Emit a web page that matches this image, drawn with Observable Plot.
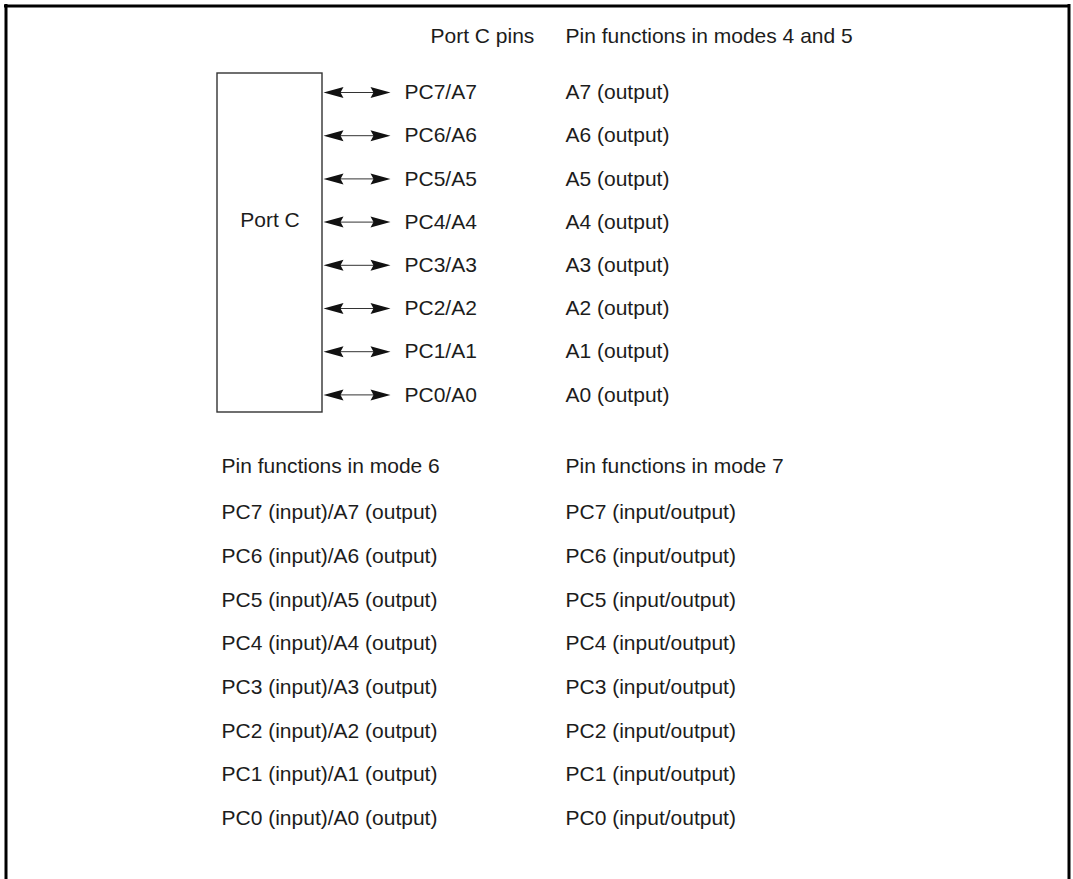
<!DOCTYPE html>
<html>
<head>
<meta charset="utf-8">
<script src="https://cdn.jsdelivr.net/npm/d3@7"></script>
<script src="https://cdn.jsdelivr.net/npm/@observablehq/plot@0.6"></script>
<style>
  html, body { margin: 0; padding: 0; background: #fff; }
  #chart svg { display: block; }
</style>
</head>
<body>
<div id="chart"></div>
<script>
// ---- Data ----
const pinLabels = ["PC7/A7", "PC6/A6", "PC5/A5", "PC4/A4", "PC3/A3", "PC2/A2", "PC1/A1", "PC0/A0"];
const modes45 = ["A7 (output)", "A6 (output)", "A5 (output)", "A4 (output)", "A3 (output)", "A2 (output)", "A1 (output)", "A0 (output)"];
const mode6 = ["PC7 (input)/A7 (output)", "PC6 (input)/A6 (output)", "PC5 (input)/A5 (output)", "PC4 (input)/A4 (output)",
               "PC3 (input)/A3 (output)", "PC2 (input)/A2 (output)", "PC1 (input)/A1 (output)", "PC0 (input)/A0 (output)"];
const mode7 = ["PC7 (input/output)", "PC6 (input/output)", "PC5 (input/output)", "PC4 (input/output)",
               "PC3 (input/output)", "PC2 (input/output)", "PC1 (input/output)", "PC0 (input/output)"];
const topHeaders = ["Port C pins", "Pin functions in modes 4 and 5"];
const bottomHeaders = ["Pin functions in mode 6", "Pin functions in mode 7"];
const blockLabel = ["Port C"];

// ---- Layout (page units) ----
const W = 1073, H = 879;
const FONT = "'Liberation Sans', Arial, Helvetica, sans-serif";
const FS = 21;
const INK = "#1c1c1c";
const pinRow0 = 92, pinStep = 43.2;
const lowRow0 = 512, lowStep = 43.7;
const colPins = 404, colRight = 565, colLeftLow = 221;
const box = {x1: 217, x2: 322, y1: 73, y2: 412};
const arrowX1 = 323, arrowX2 = 390;

const topRows = pinLabels.map((p, i) => ({pin: p, fn: modes45[i], y: pinRow0 + i * pinStep}));
const lowRows = mode6.map((m, i) => ({m6: m, m7: mode7[i], y: lowRow0 + i * lowStep}));

// custom filled arrowhead symbols (tip at origin)
const headRight = {draw(ctx) { ctx.moveTo(0, 0); ctx.lineTo(-20, -5.5); ctx.lineTo(-17, 0); ctx.lineTo(-20, 5.5); ctx.closePath(); }};
const headLeft  = {draw(ctx) { ctx.moveTo(0, 0); ctx.lineTo(20, -5.5); ctx.lineTo(17, 0); ctx.lineTo(20, 5.5); ctx.closePath(); }};

const textOpts = {textAnchor: "start", lineAnchor: "middle", fontSize: FS, fill: INK};

const plot = Plot.plot({
  width: W,
  height: H,
  margin: 0,
  style: {fontFamily: FONT, background: "#fff", overflow: "hidden"},
  x: {domain: [0, W], range: [0, W], axis: null},
  y: {domain: [0, H], range: [0, H], axis: null},
  marks: [
    // outer frame (open at bottom)
    Plot.ruleY([5.5], {x1: 4, x2: 1070, stroke: "#000", strokeWidth: 3}),
    Plot.ruleX([5.5], {y1: 4, y2: H + 5, stroke: "#000", strokeWidth: 3}),
    Plot.ruleX([1068.5], {y1: 4, y2: H + 5, stroke: "#000", strokeWidth: 3}),
    // Port C block
    Plot.rect([box], {x1: "x1", x2: "x2", y1: "y1", y2: "y2", fill: "none", stroke: "#333", strokeWidth: 1.4}),
    Plot.text(blockLabel, {x: (box.x1 + box.x2) / 2, y: topRows[3].y - 2, text: d => d, textAnchor: "middle", lineAnchor: "middle", fontSize: FS, fill: INK}),
    // bidirectional arrows
    Plot.ruleY(topRows, {y: "y", x1: arrowX1 + 10, x2: arrowX2 - 10, stroke: "#333", strokeWidth: 1}),
    Plot.dot(topRows, {x: arrowX1, y: "y", symbol: headLeft, r: 5, fill: "#111", stroke: "none"}),
    Plot.dot(topRows, {x: arrowX2, y: "y", symbol: headRight, r: 5, fill: "#111", stroke: "none"}),
    // top headers
    Plot.text([topHeaders[0]], {...textOpts, x: 430, y: 36, text: d => d}),
    Plot.text([topHeaders[1]], {...textOpts, x: colRight, y: 36, text: d => d}),
    // pin names and mode 4/5 functions
    Plot.text(topRows, {...textOpts, x: colPins, y: "y", text: "pin"}),
    Plot.text(topRows, {...textOpts, x: colRight, y: "y", text: "fn"}),
    // lower headers
    Plot.text([bottomHeaders[0]], {...textOpts, x: colLeftLow, y: 466, text: d => d}),
    Plot.text([bottomHeaders[1]], {...textOpts, x: colRight, y: 466, text: d => d}),
    // mode 6 & 7 functions
    Plot.text(lowRows, {...textOpts, x: colLeftLow, y: "y", text: "m6"}),
    Plot.text(lowRows, {...textOpts, x: colRight, y: "y", text: "m7"})
  ]
});
document.getElementById("chart").appendChild(plot);
</script>
</body>
</html>
